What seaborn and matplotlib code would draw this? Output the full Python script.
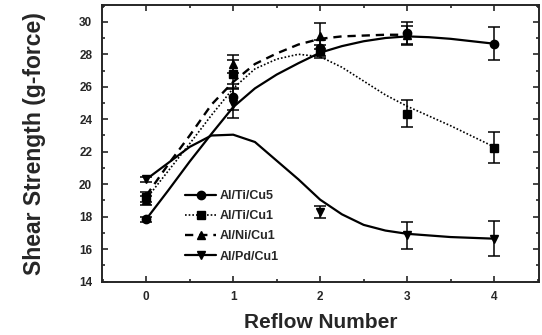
import numpy as np
import pandas as pd
import matplotlib
matplotlib.use("Agg")
import matplotlib.pyplot as plt
from matplotlib.lines import Line2D
from matplotlib.ticker import MultipleLocator
import seaborn as sns

# measured points: reflow number vs shear strength (g-force)
reflow = [0, 1, 2, 3, 4]
ti_cu5 = [17.85, 25.4, 28.4, 29.3, 28.65]
ti_cu5_err = [0.15, 0.8, 0.5, 0.7, 1.0]
ti_cu1 = [19.2, 26.8, 28.2, 24.35, 22.25]
ti_cu1_err = [0.3, 0.85, 0.4, 0.85, 0.95]
ni_reflow = [0, 1, 2, 3]
ni_cu1 = [19.0, 27.4, 29.1, 29.2]
ni_cu1_err = [0.3, 0.55, 0.8, 0.55]
pd_cu1 = [20.3, 24.95, 18.3, 16.85, 16.65]
pd_cu1_err = [0.15, 0.9, 0.38, 0.85, 1.07]

# fitted curves
curve_x = [0, 0.25, 0.5, 0.75, 1, 1.25, 1.5, 1.75, 2,
           2.25, 2.5, 2.75, 3, 3.25, 3.5, 3.75, 4]
fit_ti_cu5 = [17.85, 19.6, 21.4, 23.1, 24.75, 25.9, 26.75, 27.45, 28.1,
              28.5, 28.8, 29.0, 29.1, 29.05, 28.95, 28.8, 28.65]
fit_ti_cu1 = [19.1, 20.8, 22.5, 24.25, 25.9, 27.1, 27.7, 28.0, 27.85,
              27.2, 26.35, 25.5, 24.8, 24.2, 23.6, 22.95, 22.3]
fit_ni_cu1 = [19.3, 21.2, 23.0, 24.9, 26.3, 27.4, 28.05, 28.6, 28.95,
              29.1, 29.15, 29.2, 29.2]
fit_pd_cu1 = [20.3, 21.3, 22.3, 23.0, 23.05, 22.6, 21.45, 20.3, 19.05,
              18.15, 17.5, 17.15, 16.95, 16.85, 16.75, 16.7, 16.65]

series = [
    ("Al/Ti/Cu5", reflow, ti_cu5, ti_cu5_err, fit_ti_cu5, "o", "-", 1.6),
    ("Al/Ti/Cu1", reflow, ti_cu1, ti_cu1_err, fit_ti_cu1, "s", (0, (1, 1.2)), 1.2),
    ("Al/Ni/Cu1", ni_reflow, ni_cu1, ni_cu1_err, fit_ni_cu1, "^", (0, (3.5, 2.5)), 1.7),
    ("Al/Pd/Cu1", reflow, pd_cu1, pd_cu1_err, fit_pd_cu1, "v", "-", 1.6),
]

sns.set_style("ticks")
plt.rcParams["font.family"] = ["Liberation Sans", "DejaVu Sans"]
plt.rcParams["font.weight"] = "bold"

fig = plt.figure(figsize=(5.42, 3.35), dpi=100)
ax = fig.add_axes([0.188, 0.159, 0.807, 0.826])

handles = []
for name, xs, ys, errs, fit, mk, ls, lw in series:
    fit_df = pd.DataFrame({"x": curve_x[:len(fit)], "y": fit})
    sns.lineplot(data=fit_df, x="x", y="y", ax=ax, color="black",
                 lw=lw, ls=ls, sort=False)
    ax.errorbar(xs, ys, yerr=errs, fmt=mk, color="black", ms=6,
                capsize=4, elinewidth=1.1, capthick=1.1)
    handles.append(Line2D([], [], color="black", ls=ls, lw=lw,
                          marker=mk, ms=6, label=name))

ax.set_xlim(-0.51, 4.52)
ax.set_ylim(14, 31.03)
ax.set_xticks(reflow)
ax.set_yticks(np.arange(14, 31, 2))
ax.xaxis.set_minor_locator(MultipleLocator(0.5))
ax.yaxis.set_minor_locator(MultipleLocator(1))
ax.tick_params(which="both", direction="in", top=True, right=True,
               labelsize=8.5, width=1.2)
ax.tick_params(which="major", length=4, pad=7)
ax.tick_params(which="minor", length=2)
for s in ax.spines.values():
    s.set_linewidth(1.4)

ax.set_xlabel("Reflow Number", fontsize=15, fontweight="bold", labelpad=7)
ax.set_ylabel("Shear Strength (g-force)", fontsize=16.5, fontweight="bold",
              labelpad=24)

ax.legend(handles=handles, loc="center left", bbox_to_anchor=(0.19, 0.2),
          frameon=False, fontsize=9, handlelength=2.5, labelspacing=0.65,
          handletextpad=0.3, borderpad=0, borderaxespad=0)

fig.savefig("out.png", dpi=100)
